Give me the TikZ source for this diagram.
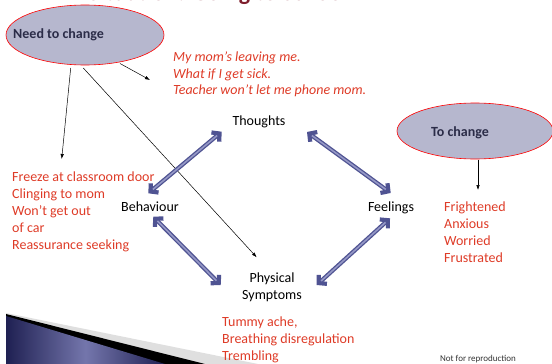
\documentclass[tikz,border=0pt]{standalone}
\usepackage{fontspec}
\setmainfont{Carlito}
\usetikzlibrary{arrows.meta,shapes.geometric}
\definecolor{redtxt}{HTML}{DE3B27}
\definecolor{ellfill}{HTML}{B6B7CE}
\definecolor{elltxt}{HTML}{2B2C48}
\definecolor{arrdark}{HTML}{4F5392}
\definecolor{arrlight}{HTML}{9598C6}
\definecolor{titlecol}{HTML}{7E1E2C}
\definecolor{navydark}{HTML}{1F2052}
\definecolor{navylight}{HTML}{7476AC}
\tikzset{
  base/.style={inner sep=0pt, font=\fontsize{14}{17}\selectfont},
  lbl/.style={base, text=black},
  redlist/.style={base, text=redtxt, align=left, anchor=base west},
  ell/.style={ellipse, draw=red, line width=0.6pt, fill=ellfill},
  elllbl/.style={inner sep=0pt, font=\bfseries\fontsize{14}{17}\selectfont, text=elltxt, anchor=west},
  blk/.style={draw=black, line width=0.5pt, -{Latex[length=5pt,width=3.5pt]}},
  bluearr/.style={draw=arrdark, line width=4.2pt, {Straight Barb[length=5.5pt,width=12pt]}-{Straight Barb[length=5.5pt,width=12pt]}},
  bluein/.style={draw=arrlight, line width=1.6pt, shorten <=6pt, shorten >=6pt}
}
\begin{document}
\begin{tikzpicture}[x=1pt,y=-1pt]
\useasboundingbox (0,0) rectangle (552,364);
\clip (0,0) rectangle (552,364);
% title (cut off at top)
\node[inner sep=0pt, anchor=base, font=\bfseries\fontsize{24}{28}\selectfont, text=titlecol] (title) at (218,0.5) {Situation: Going to School};
% bottom-left wedge
\fill[gray!25] (6,313) -- (258,364) -- (6,364) -- cycle;
\fill[black] (6,314) -- (205,364) -- (6,364) -- cycle;
\shade[left color=navydark, right color=navydark, middle color=navylight] (6,316) -- (165,364) -- (6,364) -- cycle;
% ellipses
\node[ell, minimum width=158pt, minimum height=60pt] (need) at (85,35) {};
\node[elllbl] (needlbl) at (13,35) {Need to change};
\node[ell, minimum width=156pt, minimum height=56pt] (toch) at (475,131) {};
\node[elllbl] (tochlbl) at (431,133) {To change};
% central labels
\node[lbl, anchor=base] (th) at (259,125.5) {Thoughts};
\node[lbl, anchor=base] (beh) at (150,211.5) {Behaviour};
\node[lbl, anchor=base] (feel) at (391,211.5) {Feelings};
\node[lbl, anchor=base, align=center] (phys) at (272,299.5) {Physical\\Symptoms};
% red lists (base anchor = baseline of last line)
\node[redlist, font=\itshape\fontsize{14}{16.5}\selectfont] (thlist) at (173,94.5) {My mom’s leaving me.\\What if I get sick.\\Teacher won’t let me phone mom.};
\node[redlist] (behlist) at (12,249) {Freeze at classroom door\\Clinging to mom\\Won’t get out\\of car\\Reassurance seeking};
\node[redlist] (feellist) at (444,262.5) {Frightened\\Anxious\\Worried\\Frustrated};
\node[redlist] (physlist) at (222,360) {Tummy ache,\\Breathing disregulation\\Trembling};
\node[inner sep=0pt, anchor=base, font=\fontsize{9}{10}\selectfont, text=black!80] (nfr) at (478,361) {Not for reproduction};
% coordinates for connector ends
\coordinate (n1) at (70.7,68);
\coordinate (n1e) at (61.7,159);
\coordinate (n2) at (83.3,68);
\coordinate (n2e) at (256.7,257.3);
\coordinate (n3) at (120,63.5);
\coordinate (n3e) at (150,80);
\coordinate (t1) at (478,159.5);
\coordinate (t1e) at (478,190);
\coordinate (bt1) at (148.3,193.3);
\coordinate (bt2) at (221.7,131.7);
\coordinate (tf1) at (307,132);
\coordinate (tf2) at (390.7,193);
\coordinate (fp1) at (390,218.3);
\coordinate (fp2) at (316.7,285);
\coordinate (bp1) at (153.3,216.7);
\coordinate (bp2) at (220.7,285);
% black arrows
\draw[blk] (n1) -- (n1e);
\draw[blk] (n2) -- (n2e);
\draw[blk] (n3) -- (n3e);
\draw[blk] (t1) -- (t1e);
% blue double arrows
\foreach \a/\b in {bt1/bt2, tf1/tf2, fp1/fp2, bp1/bp2}{
  \draw[bluearr] (\a) -- (\b);
  \draw[bluein] (\a) -- (\b);
}
\end{tikzpicture}
\end{document}
